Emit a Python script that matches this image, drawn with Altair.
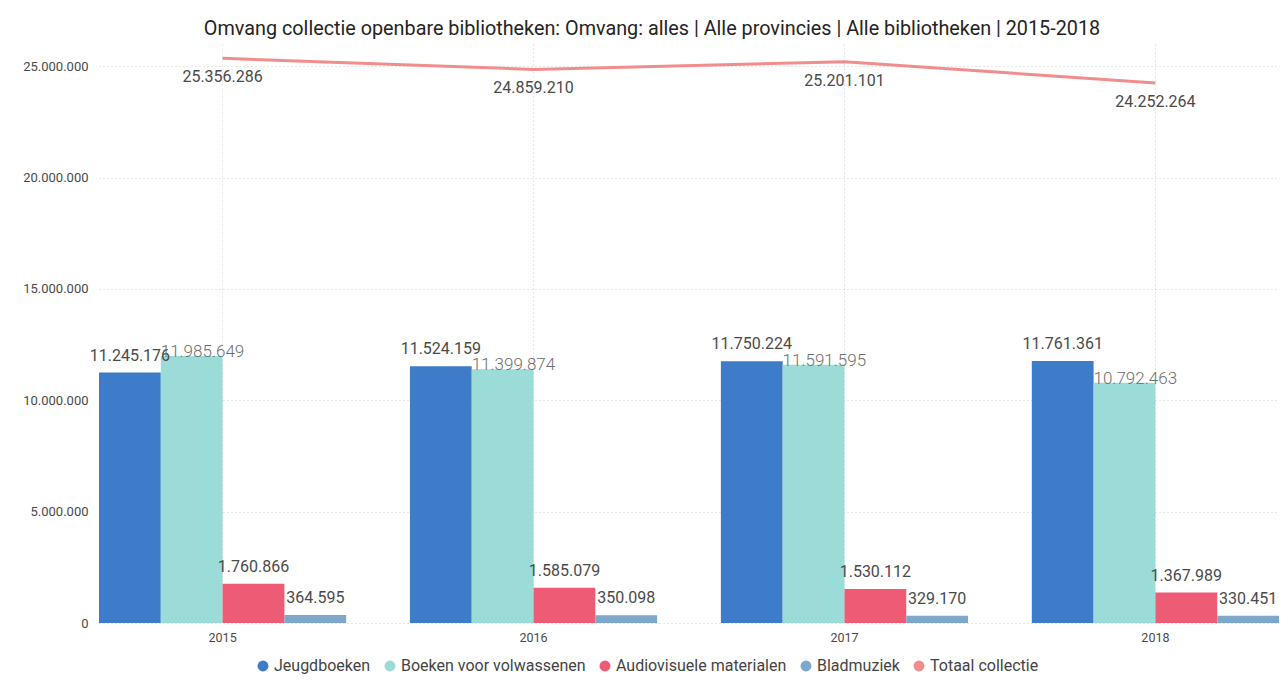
import altair as alt
import pandas as pd

years = ["2015", "2016", "2017", "2018"]
series = ["Jeugdboeken", "Boeken voor volwassenen", "Audiovisuele materialen", "Bladmuziek"]
jeugdboeken = [11245176, 11524159, 11750224, 11761361]
boeken_volwassenen = [11985649, 11399874, 11591595, 10792463]
audiovisueel = [1760866, 1585079, 1530112, 1367989]
bladmuziek = [364595, 350098, 329170, 330451]
total_name = "Totaal collectie"
totaal = [25356286, 24859210, 25201101, 24252264]
y_ticks = [0, 5000000, 10000000, 15000000, 20000000, 25000000]
colors = ["#3E7CC9", "#9CDCD8", "#EE5B74", "#7EA8CB", "#F28D8D"]
title_text = "Omvang collectie openbare bibliotheken: Omvang: alles | Alle provincies | Alle bibliotheken | 2015-2018"


def nl(v):
    return f"{v:,}".replace(",", ".")


rows = []
for s, vals in zip(series, [jeugdboeken, boeken_volwassenen, audiovisueel, bladmuziek]):
    for yr, v in zip(years, vals):
        rows.append({"jaar": yr, "reeks": s, "waarde": v, "label": nl(v)})
bars_df = pd.DataFrame(rows)
line_df = pd.DataFrame({"jaar": years, "reeks": total_name, "waarde": totaal,
                        "label": [nl(v) for v in totaal]})

FONT = "Roboto"
GRID = "#cfcfcf"
TXT = "#4a4a4a"

x = alt.X("jaar:N",
          scale=alt.Scale(domain=years, paddingInner=0.205, paddingOuter=0),
          axis=alt.Axis(title=None, labelAngle=0, ticks=False, domain=False,
                        grid=True, gridDash=[1, 3], gridColor=GRID, gridWidth=1,
                        labelFont=FONT, labelFontSize=12.5, labelColor=TXT,
                        labelFontWeight="normal", labelPadding=8))
y = alt.Y("waarde:Q",
          scale=alt.Scale(domain=[0, 26000000], nice=False, zero=True),
          axis=alt.Axis(title=None, values=y_ticks, ticks=False, domain=False,
                        labelExpr="replace(replace(format(datum.value, ',d'), ',', '.'), ',', '.')",
                        grid=True, gridDash=[1, 3], gridColor=GRID, gridWidth=1,
                        labelFont=FONT, labelFontSize=13, labelColor=TXT,
                        labelFontWeight="normal", labelPadding=11))
xoff = alt.XOffset("reeks:N", scale=alt.Scale(domain=series, paddingInner=0, paddingOuter=0))
color = alt.Color("reeks:N",
                  scale=alt.Scale(domain=series + [total_name], range=colors),
                  legend=alt.Legend(title=None, orient="none", direction="horizontal",
                                    legendX=156, legendY=614, symbolType="circle",
                                    symbolSize=120, symbolStrokeWidth=0, labelLimit=0,
                                    labelFont=FONT, labelFontSize=16, labelColor="#444444",
                                    columnPadding=11, labelOffset=3))

bars = alt.Chart(bars_df).mark_bar().encode(x=x, y=y, xOffset=xoff, color=color)

labels_main = alt.Chart(bars_df).transform_filter(
    alt.datum.reeks != "Boeken voor volwassenen"
).mark_text(dy=-17, baseline="middle", font=FONT, fontSize=16, fontWeight="normal",
            color=TXT).encode(x=x, y=y, xOffset=xoff, text="label:N")

labels_boeken = alt.Chart(bars_df).transform_filter(
    alt.datum.reeks == "Boeken voor volwassenen"
).mark_text(dy=-4, dx=-31, align="left", baseline="middle", font=FONT, fontSize=17,
            fontWeight=300, color="#6e6e6e").encode(x=x, y=y, xOffset=xoff, text="label:N")

line = alt.Chart(line_df).mark_line(strokeWidth=3).encode(x=x, y=y, color=color)
line_labels = alt.Chart(line_df).mark_text(dy=19, baseline="middle", font=FONT, fontSize=16,
                                           fontWeight="normal", color=TXT).encode(
    x=x, y=y, text="label:N")

chart = alt.layer(bars, line, labels_main, labels_boeken, line_labels).properties(
    width=1180, height=579,
    autosize=alt.AutoSizeParams(type="none"),
    padding={"left": 91, "top": 36, "right": 0, "bottom": 60},
    title=alt.TitleParams(title_text, font=FONT, fontSize=19.8, fontWeight="normal",
                          color="#252423", anchor="middle", dx=-37, offset=5),
    background="white",
).configure_view(stroke=None)

chart.save("out.html", embed_options={"renderer": "svg", "actions": False})
